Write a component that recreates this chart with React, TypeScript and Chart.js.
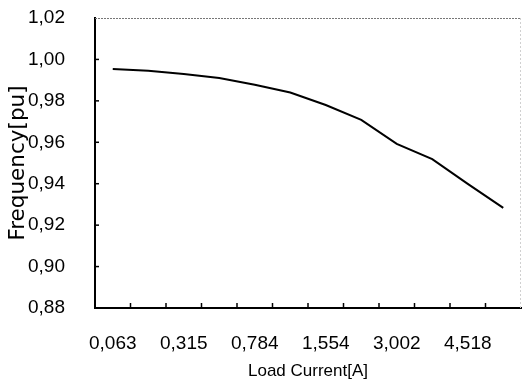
import { useEffect, useRef } from 'react';
import { Chart, registerables } from 'chart.js';

Chart.register(...registerables);

const categories = ['0,063', '', '0,315', '', '0,784', '', '1,554', '', '3,002', '', '4,518', ''];
const frequency = [0.9954, 0.9945, 0.993, 0.991, 0.9878, 0.984, 0.978, 0.9708, 0.9592, 0.9519, 0.9399, 0.9283];
const yMin = 0.88;
const yMax = 1.02;
const yStep = 0.02;
const xTitle = 'Load Current[A]';
const yTitle = 'Frequency[pu]';

const SANS = "'Liberation Sans', Arial, sans-serif";

const framePlugin = {
  id: 'frame',
  afterDraw(chart: any) {
    const { ctx, chartArea: a, scales } = chart;
    const x = scales.x;
    const y = scales.y;
    ctx.save();
    ctx.strokeStyle = '#777';
    ctx.lineWidth = 1;
    ctx.setLineDash([2, 1]);
    ctx.beginPath();
    ctx.moveTo(a.left, a.top + 0.5);
    ctx.lineTo(a.right, a.top + 0.5);
    ctx.stroke();
    ctx.strokeStyle = '#d0d0d0';
    ctx.setLineDash([2, 2]);
    ctx.beginPath();
    ctx.moveTo(a.right - 0.5, a.top);
    ctx.lineTo(a.right - 0.5, a.bottom);
    ctx.stroke();
    ctx.setLineDash([]);
    ctx.strokeStyle = '#000';
    ctx.lineWidth = 1.5;
    y.ticks.forEach((t: any) => {
      const py = y.getPixelForValue(t.value);
      if (py > a.top + 2 && py < a.bottom - 2) {
        ctx.beginPath();
        ctx.moveTo(a.left, py);
        ctx.lineTo(a.left + 4, py);
        ctx.stroke();
      }
    });
    for (let i = 1; i < categories.length; i++) {
      const px = (x.getPixelForValue(i - 1) + x.getPixelForValue(i)) / 2;
      ctx.beginPath();
      ctx.moveTo(px, a.bottom);
      ctx.lineTo(px, a.bottom - 5);
      ctx.stroke();
    }
    ctx.restore();
  },
};

export default function App() {
  const ref = useRef<HTMLCanvasElement>(null);
  useEffect(() => {
    document.body.style.margin = '0';
    const chart = new Chart(ref.current!, {
      type: 'line',
      data: {
        labels: categories,
        datasets: [
          {
            data: frequency,
            borderColor: '#000',
            borderWidth: 2,
            pointRadius: 0,
            tension: 0,
            fill: false,
          },
        ],
      },
      options: {
        animation: false,
        responsive: false,
        events: [],
        layout: { padding: { top: 18, right: 1, left: 0, bottom: 0 } },
        plugins: { legend: { display: false }, tooltip: { enabled: false } },
        scales: {
          x: {
            type: 'category',
            offset: true,
            grid: { display: false },
            border: { display: true, color: '#000', width: 2 },
            ticks: {
              autoSkip: false,
              maxRotation: 0,
              color: '#000',
              padding: 16,
              font: { family: SANS, size: 19 },
            },
            title: {
              display: true,
              text: xTitle,
              color: '#000',
              font: { family: SANS, size: 17 },
              padding: { top: 0, bottom: 8 },
            },
            afterFit(s: any) {
              s.height = 82;
            },
          },
          y: {
            min: yMin,
            max: yMax,
            grid: { display: false },
            border: { display: true, color: '#000', width: 2 },
            ticks: {
              stepSize: yStep,
              color: '#000',
              padding: 22,
              font: { family: SANS, size: 19 },
              callback: (v: any) => Number(v).toFixed(2).replace('.', ','),
            },
            title: {
              display: true,
              text: yTitle,
              color: '#000',
              font: { family: "'DejaVu Sans', sans-serif", size: 21.5 },
              padding: { top: 6, bottom: 0 },
            },
            afterFit(s: any) {
              s.width = 95;
              s.paddingTop = 0;
              s.paddingBottom = 0;
            },
          },
        },
      },
      plugins: [framePlugin],
    });
    return () => chart.destroy();
  }, []);
  return <canvas ref={ref} width={522} height={390} />;
}
